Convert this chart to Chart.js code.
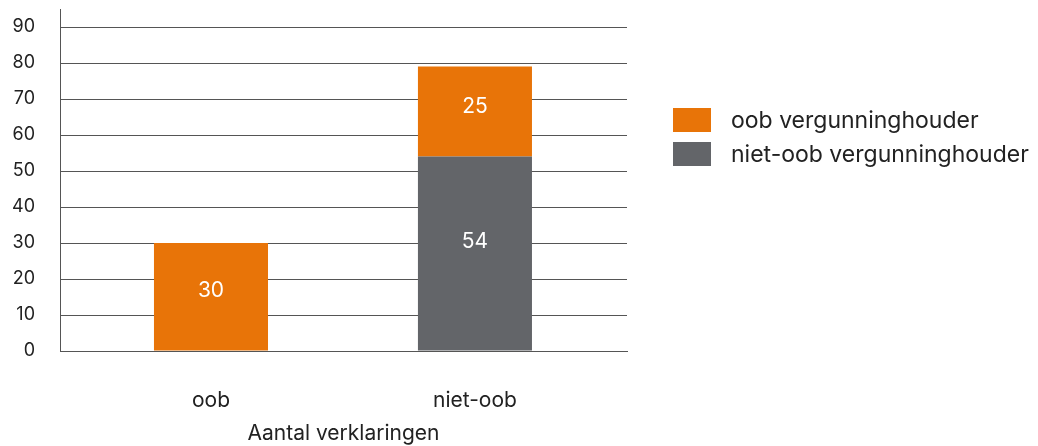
<!DOCTYPE html>
<html>
<head>
<meta charset="utf-8">
<script src="https://cdn.jsdelivr.net/npm/chart.js@4"></script>
<style>
body{margin:0;background:#fff;font-family:Inter,sans-serif;}
#wrap{position:relative;width:1038px;height:446px;}
#legend{position:absolute;left:673px;top:108px;}
.item{display:flex;align-items:center;height:24px;margin-bottom:10px;font-size:23px;color:#222;}
.box{width:38px;height:24px;margin-right:20px;flex:none;}
</style>
</head>
<body>
<div id="wrap">
<canvas id="chart"></canvas>
<div id="legend"></div>
</div>
<script>
const categories = ["oob","niet-oob"];
const oobHolder = [30,25];
const nietOobHolder = [0,54];
const yTicks = [0,10,20,30,40,50,60,70,80,90];

const orange = "#e87408";
const grey = "#636569";
const lineColor = "#555";

// numbers inside the bar segments
const barLabels = {
id:"barLabels",
afterDatasetsDraw(chart){
const ctx = chart.ctx;
ctx.save();
ctx.fillStyle = "#fff";
ctx.font = "21px Inter";
ctx.textAlign = "center";
ctx.textBaseline = "middle";
chart.data.datasets.forEach((ds,i) => {
chart.getDatasetMeta(i).data.forEach((bar,j) => {
const v = ds.data[j].y;
if(!v) return;
ctx.fillText(v, bar.x, bar.y + (bar.base - bar.y) * 0.44);
});
});
ctx.restore();
}
};

const chart = new Chart(document.getElementById("chart"),{

type:"bar",

data:{
datasets:[
{
label:"niet-oob vergunninghouder",
data:nietOobHolder.map((v,i) => ({x:i,y:v})),
backgroundColor:grey
},
{
label:"oob vergunninghouder",
data:oobHolder.map((v,i) => ({x:i,y:v})),
backgroundColor:orange
}
]
},

options:{
responsive:true,
maintainAspectRatio:false,
animation:false,
categoryPercentage:1,
barPercentage:0.432,
layout:{padding:{top:9,right:411,bottom:0,left:0}},
plugins:{legend:{display:false},tooltip:{enabled:false}},
scales:{
x:{
type:"linear",
stacked:true,
offset:false,
bounds:"data",
min:-0.572,
max:1.576,
afterBuildTicks:s => { s.ticks = categories.map((c,i) => ({value:i})); },
afterFit:s => { s.height = 95; },
grid:{display:false,drawTicks:false,offset:false},
border:{display:true,color:lineColor},
ticks:{
autoSkip:false,
maxRotation:0,
padding:37,
color:"#222",
font:{family:"Inter",size:21},
callback:v => categories[v]
},
title:{
display:true,
text:"Aantal verklaringen",
color:"#222",
font:{family:"Inter",size:21},
padding:{top:0,bottom:0}
}
},
y:{
stacked:true,
bounds:"data",
min:0,
max:95,
afterBuildTicks:s => { s.ticks = yTicks.map(v => ({value:v})); },
afterFit:s => { s.width = 60; s.paddingTop = 0; s.paddingBottom = 0; },
grid:{color:lineColor,drawTicks:false},
border:{color:lineColor},
ticks:{
padding:25,
color:"#222",
font:{family:"Inter",size:18}
}
}
}
},

plugins:[barLabels]

});

// legend, orange entry on top
const legend = document.getElementById("legend");
chart.data.datasets.slice().reverse().forEach(ds => {
const row = document.createElement("div");
row.className = "item";
const box = document.createElement("span");
box.className = "box";
box.style.background = ds.backgroundColor;
row.appendChild(box);
row.appendChild(document.createTextNode(ds.label));
legend.appendChild(row);
});
</script>
</body>
</html>
